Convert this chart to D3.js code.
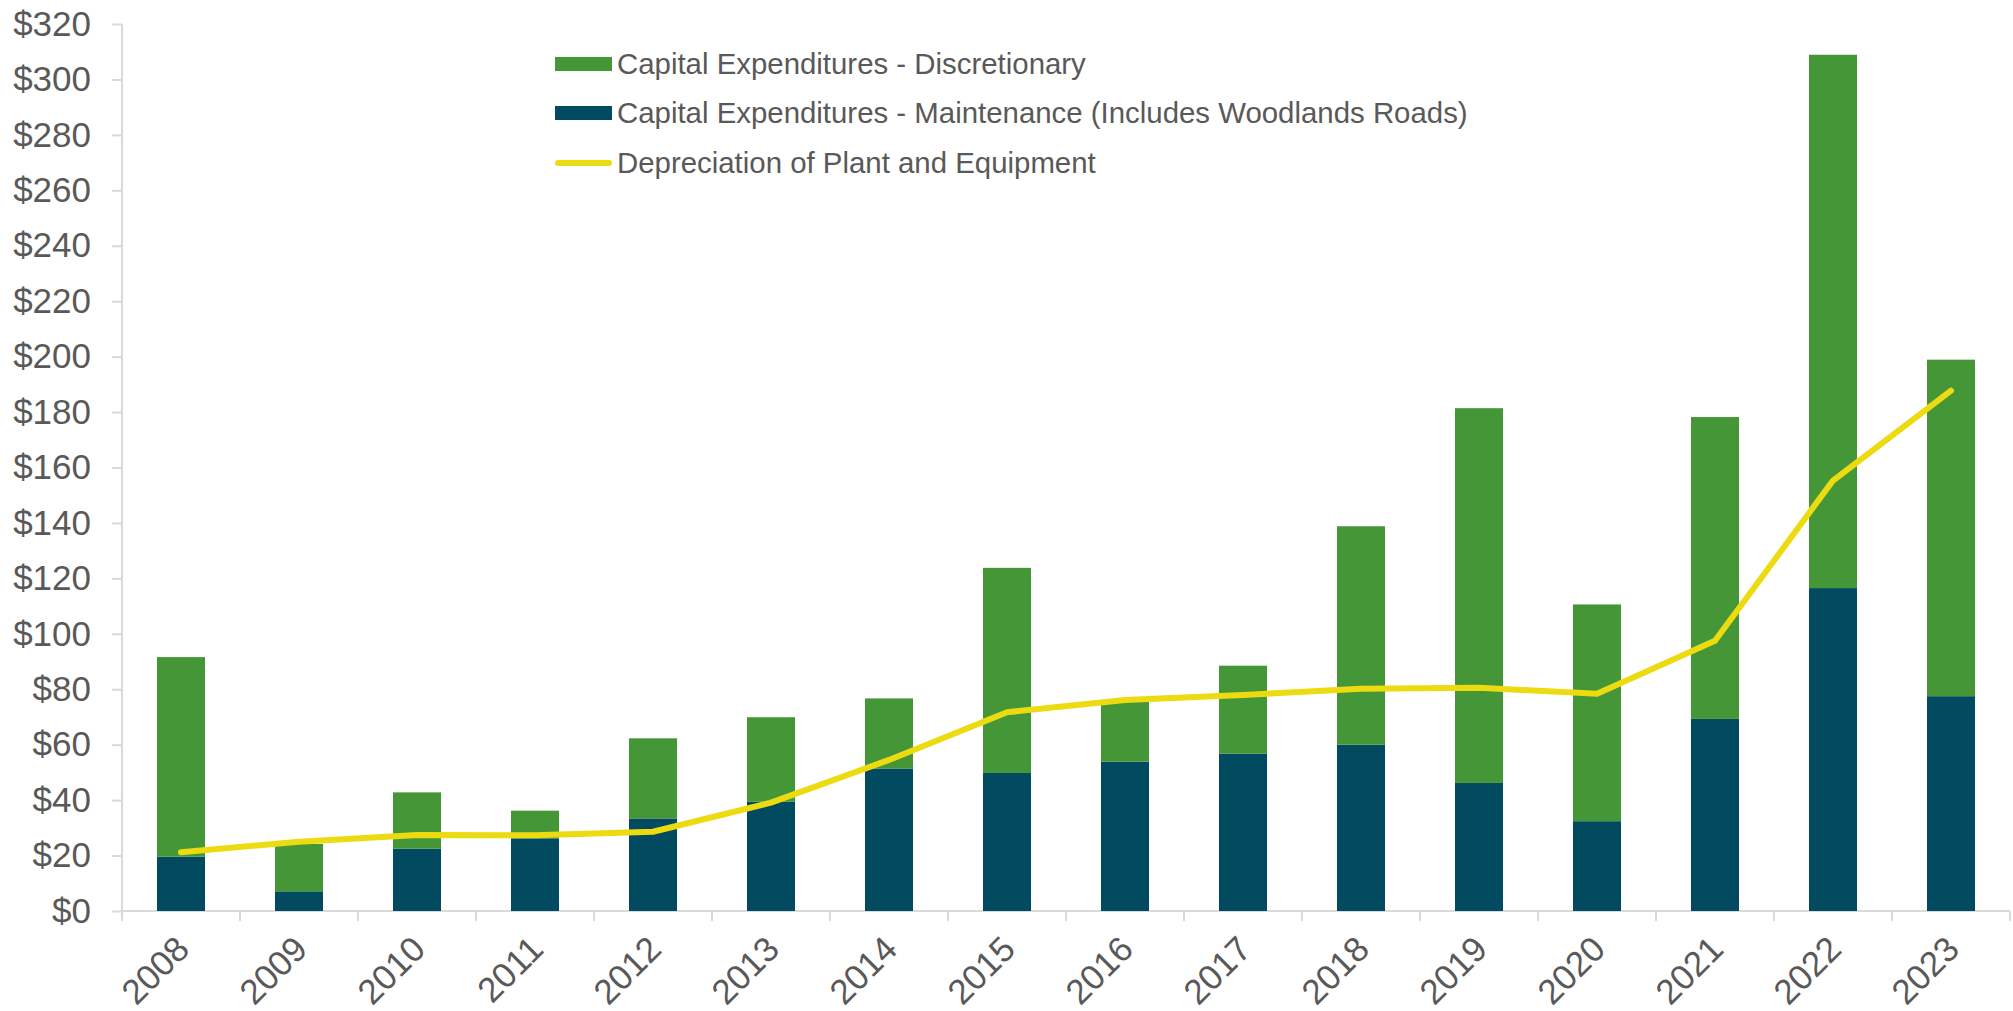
<!DOCTYPE html>
<html>
<head>
<meta charset="utf-8">
<script src="https://cdn.jsdelivr.net/npm/d3@7"></script>
<style>
  body { margin: 0; background: #fff; }
  text { font-family: Arial, "Liberation Sans", sans-serif; fill: #595959; }
</style>
</head>
<body>
<script>
var width = 2013,
    height = 1011;

// data ($ millions)
var years = ["2008", "2009", "2010", "2011", "2012", "2013", "2014", "2015",
             "2016", "2017", "2018", "2019", "2020", "2021", "2022", "2023"];
var maintenance = [19.6, 7.1, 22.5, 26.2, 33.4, 39.4, 51.4, 49.8,
                   53.9, 56.8, 60.0, 46.2, 32.4, 69.3, 116.5, 77.5];
var discretionary = [72.0, 17.1, 20.3, 10.0, 28.9, 30.5, 25.3, 74.0,
                     21.6, 31.7, 78.8, 135.2, 78.2, 108.9, 192.4, 121.4];
var depreciation = [21.2, 25.0, 27.4, 27.3, 28.6, 39.1, 54.5, 71.7,
                    76.1, 77.9, 80.2, 80.5, 78.4, 97.5, 155.3, 187.7];
var yTicks = d3.range(0, 321, 20);

var seriesNames = ["Capital Expenditures - Discretionary",
                   "Capital Expenditures - Maintenance (Includes Woodlands Roads)",
                   "Depreciation of Plant and Equipment"];
var colors = { disc: "#459636", maint: "#024A60", dep: "#ECDB10" };

var margin = { left: 122, right: 3, top: 24, bottom: 100 };

var svg = d3.select("body").append("svg")
    .attr("width", width)
    .attr("height", height);

var x = d3.scaleBand()
    .domain(years)
    .range([margin.left, width - margin.right])
    .paddingInner(0.593)
    .paddingOuter(0.2965);

var y = d3.scaleLinear()
    .domain([0, 320])
    .range([height - margin.bottom, margin.top]);

var rows = years.map(function(yr, i) {
  return { year: yr, maint: maintenance[i], disc: discretionary[i] };
});
var stacked = d3.stack().keys(["maint", "disc"])(rows);

// y axis
var yAxis = svg.append("g")
    .attr("transform", "translate(" + margin.left + ",0)")
    .call(d3.axisLeft(y).tickValues(yTicks).tickSize(10).tickPadding(21)
      .tickFormat(function(d) { return "$" + d; }));
yAxis.select(".domain").attr("stroke", "#d9d9d9").attr("stroke-width", 2)
    .attr("d", "M0," + y(320) + "V" + (y(0) + 10));
yAxis.selectAll(".tick line").attr("stroke", "#d9d9d9").attr("stroke-width", 2);
yAxis.selectAll(".tick text").style("font-size", "35px").attr("fill", "#595959");

// x axis with ticks at category boundaries
var step = x.step();
svg.append("line")
    .attr("x1", margin.left).attr("x2", width - margin.right)
    .attr("y1", y(0)).attr("y2", y(0))
    .attr("stroke", "#d9d9d9").attr("stroke-width", 2);
svg.selectAll(".xtick")
    .data(d3.range(years.length + 1))
    .enter().append("line")
    .attr("class", "xtick")
    .attr("x1", function(d) { return margin.left + d * step; })
    .attr("x2", function(d) { return margin.left + d * step; })
    .attr("y1", y(0)).attr("y2", y(0) + 10)
    .attr("stroke", "#d9d9d9").attr("stroke-width", 2);

svg.selectAll(".xlabel")
    .data(years)
    .enter().append("text")
    .attr("class", "xlabel")
    .attr("transform", function(d) {
      return "translate(" + (x(d) + x.bandwidth() / 2 - 7) + "," + (y(0) + 23) + ") rotate(-45)";
    })
    .attr("text-anchor", "end")
    .attr("dy", "0.7em")
    .style("font-size", "35px")
    .text(function(d) { return d; });

// stacked bars
svg.selectAll(".layer")
    .data(stacked)
    .enter().append("g")
    .attr("class", "layer")
    .attr("fill", function(d) { return colors[d.key]; })
  .selectAll("rect")
    .data(function(d) { return d; })
    .enter().append("rect")
    .attr("x", function(d) { return x(d.data.year); })
    .attr("y", function(d) { return y(d[1]); })
    .attr("width", x.bandwidth())
    .attr("height", function(d) { return y(d[0]) - y(d[1]); });

// depreciation line
var line = d3.line()
    .x(function(d, i) { return x(years[i]) + x.bandwidth() / 2; })
    .y(function(d) { return y(d); });

svg.append("path")
    .datum(depreciation)
    .attr("fill", "none")
    .attr("stroke", colors.dep)
    .attr("stroke-width", 6)
    .attr("stroke-linecap", "round")
    .attr("stroke-linejoin", "round")
    .attr("d", line);

// legend
var legend = svg.append("g").attr("transform", "translate(555,0)");
var legendRows = [
  { name: seriesNames[0], color: colors.disc, type: "rect", cy: 64 },
  { name: seriesNames[1], color: colors.maint, type: "rect", cy: 113 },
  { name: seriesNames[2], color: colors.dep, type: "line", cy: 163 }
];
legendRows.forEach(function(r) {
  if (r.type === "rect") {
    legend.append("rect")
        .attr("x", 0).attr("y", r.cy - 7)
        .attr("width", 57).attr("height", 14)
        .attr("fill", r.color);
  } else {
    legend.append("line")
        .attr("x1", 3).attr("x2", 54)
        .attr("y1", r.cy).attr("y2", r.cy)
        .attr("stroke", r.color).attr("stroke-width", 6)
        .attr("stroke-linecap", "round");
  }
  legend.append("text")
      .attr("x", 62).attr("y", r.cy)
      .attr("dy", "0.35em")
      .style("font-size", "29.4px")
      .text(r.name);
});
</script>
</body>
</html>
